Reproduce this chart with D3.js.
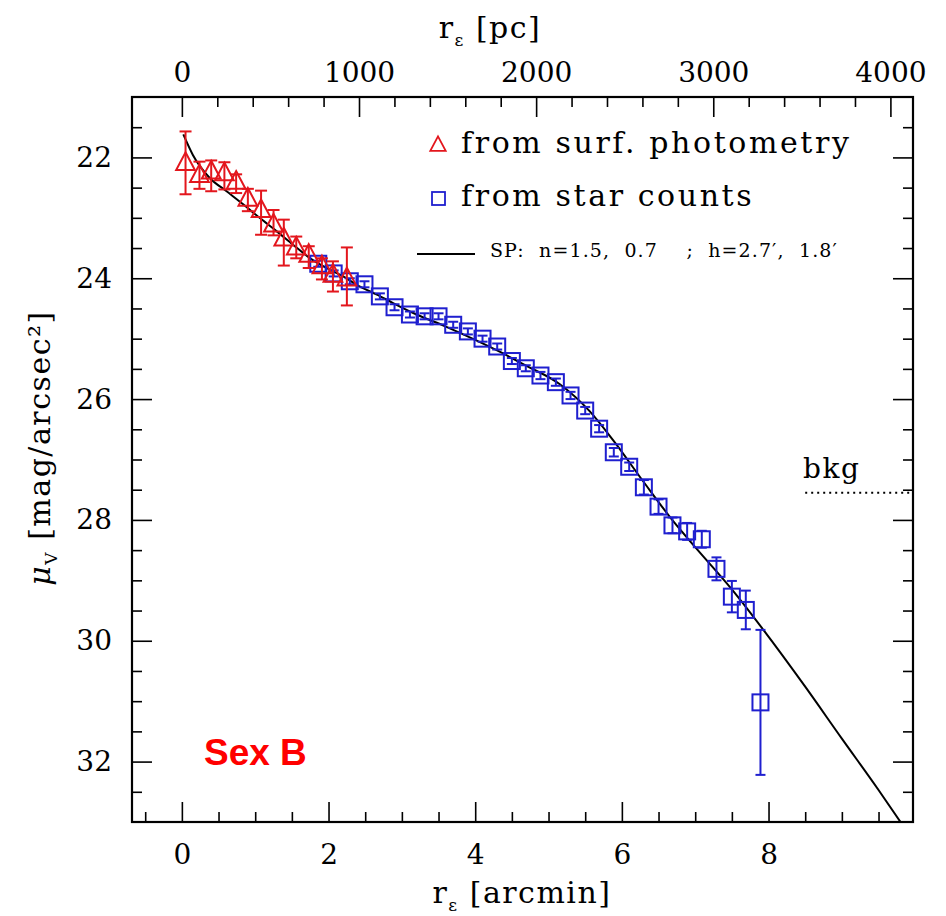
<!DOCTYPE html>
<html>
<head>
<meta charset="utf-8">
<script src="https://cdn.jsdelivr.net/npm/d3@7"></script>
<style>
  body { margin: 0; background: #fff; }
  svg { display: block; font-family: "DejaVu Serif", serif; }
</style>
</head>
<body>
<svg id="chart" width="946" height="916"></svg>
<script>
// Sex B surface brightness profile

// surface photometry (red triangles): radius [arcmin], mu_V, error bar ends
const spX  = [0.05, 0.24, 0.40, 0.58, 0.74, 0.90, 1.08, 1.25, 1.39, 1.56, 1.73, 1.91, 2.06, 2.25];
const spY  = [22.09, 22.29, 22.23, 22.26, 22.40, 22.68, 22.87, 23.11, 23.34, 23.49, 23.61, 23.80, 23.94, 24.00];
const spLo = [21.57, 22.07, 22.05, 22.08, 22.28, 22.52, 22.55, 22.87, 23.03, 23.31, 23.47, 23.67, 23.72, 23.49];
const spHi = [22.61, 22.52, 22.56, 22.53, 22.59, 22.89, 23.28, 23.29, 23.79, 23.67, 23.83, 24.02, 24.22, 24.45];

// star counts (blue squares)
const scX = [1.86, 2.07, 2.29, 2.49, 2.70, 2.90, 3.11, 3.31, 3.50, 3.70, 3.90, 4.10, 4.30, 4.50, 4.69, 4.89,
             5.10, 5.30, 5.50, 5.69, 5.89, 6.10, 6.30, 6.50, 6.69, 6.89, 7.09, 7.29, 7.50, 7.69, 7.89];
const scY = [23.76, 23.92, 24.05, 24.10, 24.30, 24.48, 24.60, 24.63, 24.63, 24.77, 24.88, 25.00, 25.13, 25.37, 25.49, 25.61,
             25.72, 25.94, 26.19, 26.49, 26.88, 27.12, 27.46, 27.78, 28.09, 28.19, 28.32, 28.81, 29.27, 29.49, 31.02];
const scErr = [0.05, 0.05, 0.05, 0.05, 0.05, 0.05, 0.05, 0.05, 0.05, 0.05, 0.05, 0.05, 0.05, 0.05, 0.05, 0.06,
               0.06, 0.06, 0.06, 0.06, 0.07, 0.07, 0.12, 0.12, 0.13, 0.14, 0.14, 0.19, 0.26, 0.32, 1.20];

// double Sersic fit (black line)
const fitX = [0.02, 0.15, 0.38, 0.61, 0.84, 1.06, 1.29, 1.52, 1.75, 1.97, 2.20, 2.43, 2.66, 2.88, 3.20, 3.60,
              4.00, 4.34, 4.70, 5.15, 5.56, 5.88, 6.29, 6.70, 7.00, 7.50, 7.93, 8.50, 9.00, 9.50, 9.80];
const fitY = [21.62, 21.96, 22.34, 22.56, 22.78, 23.00, 23.22, 23.45, 23.67, 23.83, 23.97, 24.14, 24.27, 24.41, 24.60, 24.80,
              25.02, 25.22, 25.45, 25.75, 26.20, 26.68, 27.36, 28.02, 28.45, 29.15, 29.82, 30.76, 31.62, 32.47, 33.00];

// sky background level
const bkgX = [8.5, 9.97];
const bkgY = 27.55;

// ticks
const xMajor  = [0, 2, 4, 6, 8];
const yMajor  = [22, 24, 26, 28, 30, 32];
const pcMajor = [0, 1000, 2000, 3000, 4000];
const PC_PER_ARCMIN = 414;

const RED  = '#e3161d';
const BLUE = '#1f1fcf';
const SERIF = '"DejaVu Serif", serif';

const svg = d3.select('#chart');

const L = 132, R = 913, T = 97, B = 822;
const x = d3.scaleLinear().domain([-0.68, 9.97]).range([L, R]);
const y = d3.scaleLinear().domain([21, 33]).range([T, B]);
const xpc = d3.scaleLinear().domain(x.domain().map(d => d * PC_PER_ARCMIN)).range([L, R]);

const MAJ = 20, MIN = 10;

// ── axes: major + minor ticks, all pointing inward ─────────────────────────
const xMinor  = d3.range(-0.5, 10, 0.5).filter(v => !xMajor.includes(v));
const yMinor  = d3.range(21.5, 33, 0.5).filter(v => !yMajor.includes(v));
const pcMinor = d3.range(0, 4200, 200).filter(v => !pcMajor.includes(v));

function styleAxis(g) {
    g.select('.domain').remove();
    g.selectAll('line').attr('stroke', '#000').attr('stroke-width', 1.6);
    g.selectAll('text').style('font-family', SERIF)
        .style('font-size', '28px').attr('fill', '#000');
}

// bottom
svg.append('g').attr('transform', `translate(0,${B})`)
    .call(d3.axisBottom(x).tickValues(xMajor).tickSize(-MAJ).tickPadding(22).tickFormat(d3.format('d')))
    .call(styleAxis);
svg.append('g').attr('transform', `translate(0,${B})`)
    .call(d3.axisBottom(x).tickValues(xMinor).tickSize(-MIN).tickFormat(''))
    .call(styleAxis);

// top (pc)
svg.append('g').attr('transform', `translate(0,${T})`)
    .call(d3.axisTop(xpc).tickValues(pcMajor).tickSize(-MAJ).tickPadding(15).tickFormat(d3.format('d')))
    .call(styleAxis);
svg.append('g').attr('transform', `translate(0,${T})`)
    .call(d3.axisTop(xpc).tickValues(pcMinor).tickSize(-MIN).tickFormat(''))
    .call(styleAxis);

// left
svg.append('g').attr('transform', `translate(${L},0)`)
    .call(d3.axisLeft(y).tickValues(yMajor).tickSize(-MAJ).tickPadding(20).tickFormat(d3.format('d')))
    .call(styleAxis);
svg.append('g').attr('transform', `translate(${L},0)`)
    .call(d3.axisLeft(y).tickValues(yMinor).tickSize(-MIN).tickFormat(''))
    .call(styleAxis);

// right (no labels)
svg.append('g').attr('transform', `translate(${R},0)`)
    .call(d3.axisRight(y).tickValues(yMajor).tickSize(-MAJ).tickFormat(''))
    .call(styleAxis);
svg.append('g').attr('transform', `translate(${R},0)`)
    .call(d3.axisRight(y).tickValues(yMinor).tickSize(-MIN).tickFormat(''))
    .call(styleAxis);

// frame
svg.append('rect')
    .attr('x', L).attr('y', T).attr('width', R - L).attr('height', B - T)
    .attr('fill', 'none').attr('stroke', '#000').attr('stroke-width', 2.2);

// ── axis titles ─────────────────────────────────────────────────────────────
const tBottom = svg.append('text').attr('x', 522).attr('y', 903)
    .attr('text-anchor', 'middle').style('font-size', '30px').attr('letter-spacing', 1.5);
tBottom.append('tspan').text('r');
tBottom.append('tspan').style('font-size', '17px').attr('dy', 8).text('ε');
tBottom.append('tspan').attr('dy', -8).text(' [arcmin]');

const tTop = svg.append('text').attr('x', 490).attr('y', 38)
    .attr('text-anchor', 'middle').style('font-size', '30px').attr('letter-spacing', 1.5);
tTop.append('tspan').text('r');
tTop.append('tspan').style('font-size', '17px').attr('dy', 8).text('ε');
tTop.append('tspan').attr('dy', -8).text(' [pc]');

const tLeft = svg.append('text')
    .attr('transform', 'translate(50,448) rotate(-90)')
    .attr('text-anchor', 'middle').style('font-size', '30px').attr('letter-spacing', 1.5);
tLeft.append('tspan').style('font-style', 'italic').text('μ');
tLeft.append('tspan').style('font-size', '17px').attr('dy', 7).text('V');
tLeft.append('tspan').attr('dy', -7).text(' [mag/arcsec²]');

// ── plot content (clipped) ──────────────────────────────────────────────────
svg.append('clipPath').attr('id', 'plot-clip')
    .append('rect').attr('x', L).attr('y', T).attr('width', R - L).attr('height', B - T);
const plot = svg.append('g').attr('clip-path', 'url(#plot-clip)');

// background level
plot.append('line')
    .attr('x1', x(bkgX[0])).attr('x2', x(bkgX[1]))
    .attr('y1', y(bkgY)).attr('y2', y(bkgY))
    .attr('stroke', '#000').attr('stroke-width', 2).attr('stroke-dasharray', '2,4');
svg.append('text').attr('x', 803).attr('y', 478)
    .style('font-size', '28px').attr('letter-spacing', 1.5).text('bkg');

// fit line
const fitData = fitX.map((v, i) => [v, fitY[i]]);
plot.append('path').datum(fitData)
    .attr('d', d3.line().x(d => x(d[0])).y(d => y(d[1])).curve(d3.curveMonotoneX))
    .attr('fill', 'none').attr('stroke', '#000').attr('stroke-width', 2);

// star counts: squares + error bars
const sc = scX.map((v, i) => ({ x: v, y: scY[i], e: scErr[i] }));
const scG = plot.append('g').attr('stroke', BLUE).attr('fill', 'none').attr('stroke-width', 2);
sc.forEach(d => {
    const cx = x(d.x), ylo = y(d.y - d.e), yhi = y(d.y + d.e);
    scG.append('line').attr('x1', cx).attr('x2', cx).attr('y1', ylo).attr('y2', yhi);
    scG.append('line').attr('x1', cx - 5).attr('x2', cx + 5).attr('y1', ylo).attr('y2', ylo);
    scG.append('line').attr('x1', cx - 5).attr('x2', cx + 5).attr('y1', yhi).attr('y2', yhi);
    scG.append('rect').attr('x', cx - 8).attr('y', y(d.y) - 8).attr('width', 16).attr('height', 16);
});

// surface photometry: triangles + error bars
const sp = spX.map((v, i) => ({ x: v, y: spY[i], lo: spLo[i], hi: spHi[i] }));
const spG = plot.append('g').attr('stroke', RED).attr('fill', 'none').attr('stroke-width', 2);
const tri = (cx, cy, s) => `M${cx},${cy - s * 0.62}L${cx + s * 0.55},${cy + s * 0.42}L${cx - s * 0.55},${cy + s * 0.42}Z`;
sp.forEach(d => {
    const cx = x(d.x), ylo = y(d.lo), yhi = y(d.hi);
    spG.append('line').attr('x1', cx).attr('x2', cx).attr('y1', ylo).attr('y2', yhi);
    spG.append('line').attr('x1', cx - 6).attr('x2', cx + 6).attr('y1', ylo).attr('y2', ylo);
    spG.append('line').attr('x1', cx - 6).attr('x2', cx + 6).attr('y1', yhi).attr('y2', yhi);
    spG.append('path').attr('d', tri(cx, y(d.y), 17));
});

// ── legend ──────────────────────────────────────────────────────────────────
svg.append('path').attr('d', tri(438, 145, 14))
    .attr('fill', 'none').attr('stroke', RED).attr('stroke-width', 1.8);
svg.append('text').attr('x', 461).attr('y', 153)
    .style('font-size', '30px').attr('letter-spacing', 2.6).text('from surf. photometry');

svg.append('rect').attr('x', 432).attr('y', 192).attr('width', 13).attr('height', 13)
    .attr('fill', 'none').attr('stroke', BLUE).attr('stroke-width', 1.8);
svg.append('text').attr('x', 461).attr('y', 206)
    .style('font-size', '30px').attr('letter-spacing', 2.6).text('from star counts');

svg.append('line').attr('x1', 417).attr('x2', 475).attr('y1', 254).attr('y2', 254)
    .attr('stroke', '#000').attr('stroke-width', 2);
svg.append('text').attr('x', 490).attr('y', 257)
    .style('font-size', '19px').style('white-space', 'pre').attr('letter-spacing', 1.1)
    .text('SP:  n=1.5,  0.7    ;  h=2.7′,  1.8′');

// galaxy name
svg.append('text').attr('x', 204).attr('y', 765)
    .style('font-family', '"Liberation Sans", Arial, sans-serif')
    .style('font-weight', 'bold').style('font-size', '37px').attr('fill', '#ff0000')
    .text('Sex B');
</script>
</body>
</html>
